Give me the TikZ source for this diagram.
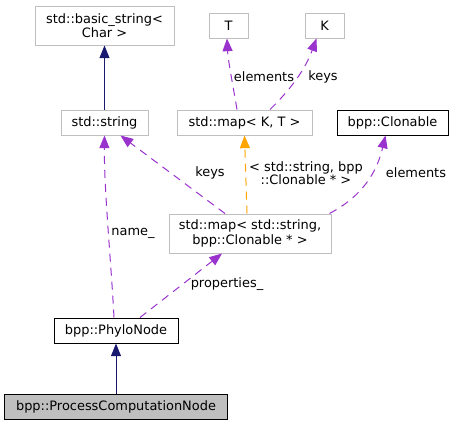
\documentclass[tikz,border=0pt]{standalone}
\usepackage{fontspec}
\setmainfont{DejaVu Sans}
\usetikzlibrary{arrows.meta,calc}
\definecolor{edgenavy}{HTML}{191970}
\definecolor{edgepurple}{HTML}{9A32CD}
\definecolor{edgeorange}{HTML}{FFA500}
\definecolor{boxgrey}{HTML}{BFBFBF}
\begin{document}
\begin{tikzpicture}[x=0.75pt,y=-0.75pt,
  font=\fontsize{9.7}{10.8}\selectfont,
  base/.style={rectangle, inner sep=0pt, align=center, line width=0.75pt},
  ext/.style={base, draw=boxgrey, fill=white},
  doc/.style={base, draw=black, fill=white},
  mainbox/.style={base, draw=black, fill=boxgrey},
  tipped/.style={-{Triangle[length=9.5pt,width=7.5pt]}, line width=0.75pt},
  inherit/.style={tipped, draw=edgenavy, fill=edgenavy},
  usage/.style={tipped, draw=edgepurple, dash pattern=on 6pt off 4.5pt},
  tmpl/.style={tipped, draw=edgeorange, dash pattern=on 6pt off 4.5pt},
  lbl/.style={inner sep=0pt, align=center, font=\fontsize{9.7}{10}\selectfont}
]
\useasboundingbox (0,0) rectangle (453,425);

\node[ext, minimum width=139*0.75pt, minimum height=39*0.75pt] (bs) at (104.5,25.5) {std::basic\_string<\\Char >};
\node[ext, minimum width=87*0.75pt, minimum height=25*0.75pt] (str) at (104.5,122.5) {std::string};
\node[ext, minimum width=39*0.75pt, minimum height=25*0.75pt] (T) at (228.5,25.5) {T};
\node[ext, minimum width=39*0.75pt, minimum height=25*0.75pt] (K) at (324.5,25.5) {K};
\node[ext, minimum width=135*0.75pt, minimum height=25*0.75pt] (mapKT) at (244.5,122.5) {std::map< K, T >};
\node[doc, minimum width=111*0.75pt, minimum height=25*0.75pt] (clon) at (392.5,122.5) {bpp::Clonable};
\node[ext, minimum width=162*0.75pt, minimum height=39*0.75pt] (mapSC) at (250,233.5) {std::map< std::string,\\bpp::Clonable * >};
\node[doc, minimum width=124*0.75pt, minimum height=25*0.75pt] (phylo) at (116,330.5) {bpp::PhyloNode};
\node[mainbox, minimum width=223*0.75pt, minimum height=25*0.75pt] (pcn) at (116,406.5) {bpp::ProcessComputationNode};

% inheritance
\draw[inherit] (str.north) -- (bs.south);
\draw[inherit] (pcn.north) -- (phylo.south);

% usage
\draw[usage] ($(phylo.north)+(-2,0)$) .. controls (111,260) and (104,190) .. (str.south);
\draw[usage] ($(phylo.north)+(24,0)$) -- ($(mapSC.south)+(-28,0)$);
\draw[usage] ($(mapSC.north)+(-25,0)$) -- ($(str.south)+(16,0)$);
\draw[tmpl] ($(mapSC.north)+(-3,0)$) -- (mapKT.south);
\draw[usage] ($(mapSC.north east)+(-2,0)$) .. controls (355,200) and (375,180) .. ($(clon.south)+(-7,0)$);
\draw[usage] ($(mapKT.north)+(-7.5,0)$) .. controls (232,80) and (228,60) .. ($(T.south)+(-1.5,0)$);
\draw[usage] ($(mapKT.north)+(25.5,0)$) .. controls (290,90) and (305,70) .. ($(K.south)+(-8,0)$);

% labels
\node[lbl] (l1) at (133,233) {name\_};
\node[lbl] (l2) at (227,284) {properties\_};
\node[lbl] (l3) at (210,173) {keys};
\node[lbl] (l4) at (306,173.5) {< std::string, bpp\\::Clonable * >};
\node[lbl] (l5) at (416,173) {elements};
\node[lbl] (l6) at (264,77) {elements};
\node[lbl] (l7) at (323,77) {keys};
\end{tikzpicture}
\end{document}
